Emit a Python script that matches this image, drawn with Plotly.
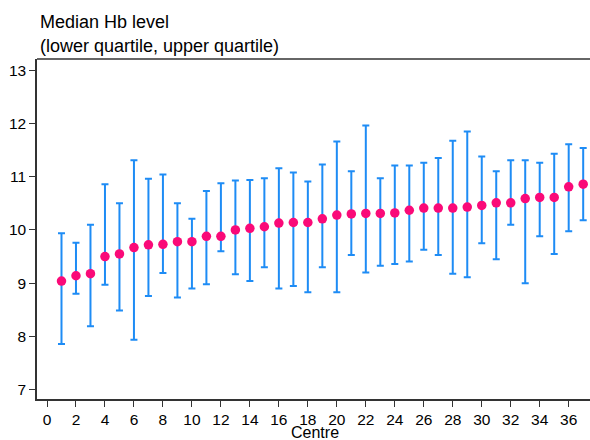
import plotly.graph_objects as go

centre = list(range(1, 38))
median = [9.04, 9.14, 9.18, 9.50, 9.55, 9.67, 9.72, 9.73, 9.78, 9.78,
          9.88, 9.88, 10.00, 10.03, 10.06, 10.13, 10.14, 10.14, 10.21, 10.28,
          10.30, 10.31, 10.31, 10.32, 10.37, 10.41, 10.41, 10.41, 10.43, 10.46,
          10.51, 10.51, 10.59, 10.61, 10.61, 10.81, 10.86]
upper_q = [9.94, 9.76, 10.10, 10.86, 10.50, 11.31, 10.96, 11.04, 10.50, 10.21,
           10.73, 10.875, 10.93, 10.94, 10.97, 11.16, 11.08, 10.91, 11.23, 11.66,
           11.10, 11.96, 10.97, 11.21, 11.21, 11.26, 11.35, 11.675, 11.85, 11.38,
           11.10, 11.31, 11.31, 11.26, 11.43, 11.61, 11.54]
lower_q = [7.86, 8.80, 8.19, 8.97, 8.49, 7.94, 8.76, 9.19, 8.73, 8.90,
           8.98, 9.60, 9.17, 9.04, 9.30, 8.90, 8.95, 8.83, 9.30, 8.83,
           9.53, 9.20, 9.33, 9.36, 9.41, 9.63, 9.53, 9.18, 9.11, 9.75,
           9.45, 10.10, 9.00, 9.88, 9.55, 9.975, 10.18]
x_ticks = list(range(0, 37, 2))
y_ticks = [7, 8, 9, 10, 11, 12, 13]

FONT = "Liberation Sans, Arial, sans-serif"
BLUE = "#1E8CF5"
PINK = "#FA0A78"
AXC = "#333333"

fig = go.Figure()
fig.add_trace(go.Scatter(
    x=centre, y=median, mode="markers",
    marker=dict(color=PINK, size=9.5, line=dict(width=0)),
    error_y=dict(type="data", symmetric=False,
                 array=[u - m for u, m in zip(upper_q, median)],
                 arrayminus=[m - l for m, l in zip(median, lower_q)],
                 color=BLUE, thickness=2, width=3.5),
    showlegend=False,
))

fig.update_layout(
    width=590, height=440, autosize=False,
    margin=dict(l=37, r=0, t=59, b=41),
    paper_bgcolor="white", plot_bgcolor="white",
    font=dict(family=FONT, size=15, color="black"),
    xaxis=dict(range=[-0.69, 37.47], tickvals=x_ticks, ticks="outside",
               ticklen=6, tickwidth=1.2, tickcolor=AXC,
               showline=True, linecolor=AXC, linewidth=1.5,
               showgrid=False, zeroline=False, automargin=False,
               tickfont=dict(size=15.5)),
    yaxis=dict(range=[6.826, 13.21], tickvals=y_ticks, ticks="outside",
               ticklen=6, tickwidth=1.2, tickcolor=AXC,
               showline=True, linecolor=AXC, linewidth=1.5,
               showgrid=False, zeroline=False, automargin=False,
               tickfont=dict(size=15.5)),
    shapes=[dict(type="line", xref="paper", yref="paper", x0=0, x1=1, y0=1, y1=1,
                 line=dict(color=AXC, width=1.5))],
    annotations=[
        dict(text="Median Hb level", xref="paper", yref="paper",
             x=0.002, y=1.109, xanchor="left", yanchor="middle",
             showarrow=False, font=dict(size=18)),
        dict(text="(lower quartile, upper quartile)", xref="paper", yref="paper",
             x=0.002, y=1.038, xanchor="left", yanchor="middle",
             showarrow=False, font=dict(size=18)),
        dict(text="Centre", xref="paper", yref="paper",
             x=0.503, y=-0.0995, xanchor="center", yanchor="middle",
             showarrow=False, font=dict(size=16)),
    ],
)

fig.write_html("out.html", config={"displayModeBar": False},
               post_script="document.body.style.margin='0';document.body.style.padding='0';")
